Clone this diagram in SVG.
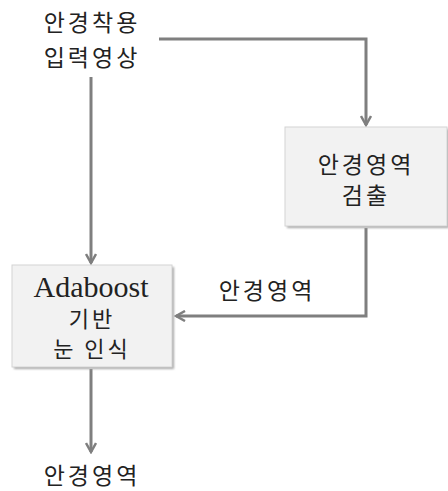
<svg xmlns="http://www.w3.org/2000/svg" width="448" height="491" viewBox="0 0 448 491">
<style>
.k{font-family:"Noto Sans CJK KR","Noto Sans",sans-serif;font-size:23px;letter-spacing:3px;fill:#222;text-anchor:middle}
.s{font-size:22px}
.l{font-family:"Liberation Serif",serif;font-size:30px;fill:#222;text-anchor:middle}
.c{fill:none;stroke:#7f7f7f;stroke-width:3}
.box{fill:#f2f2f2;stroke:#d4d4d4;stroke-width:1}
.sh{fill:#a8a8a8}
</style>
<defs>
<marker id="ah" viewBox="0 0 12 12" refX="10" refY="6" markerWidth="12" markerHeight="12" markerUnits="userSpaceOnUse" orient="auto">
<path d="M1,1 L10,6 L1,11" fill="none" stroke="#7f7f7f" stroke-width="2.5"/>
</marker>
<filter id="blur" x="-10%" y="-10%" width="120%" height="120%"><feGaussianBlur stdDeviation="1.2"/></filter>
</defs>
<rect width="448" height="491" fill="#fff"/>
<g id="connectors">
<path class="c" d="M159,39 H366 V125" marker-end="url(#ah)"/>
<path class="c" d="M91,77 V263" marker-end="url(#ah)"/>
<path class="c" d="M366,228 V316 H176" marker-end="url(#ah)"/>
<path class="c" d="M91,369 V452" marker-end="url(#ah)"/>
</g>
<g id="input">
<text class="k" x="92" y="31">안경착용</text>
<text class="k" x="92" y="66">입력영상</text>
</g>
<g id="detect">
<rect class="sh" x="287" y="129" width="162" height="99" filter="url(#blur)"/>
<rect class="box" x="285" y="127" width="162" height="99"/>
<text class="k" x="366" y="173">안경영역</text>
<text class="k" x="366" y="204">검출</text>
</g>
<g id="recog">
<rect class="sh" x="14" y="267" width="160" height="102" filter="url(#blur)"/>
<rect class="box" x="12" y="265" width="160" height="102"/>
<text class="l" x="91" y="297">Adaboost</text>
<text class="k s" x="92" y="327">기반</text>
<text class="k s" x="92" y="357">눈 인식</text>
</g>
<g id="label">
<text class="k" x="267" y="299">안경영역</text>
</g>
<g id="output">
<text class="k" x="92" y="484">안경영역</text>
</g>
</svg>
